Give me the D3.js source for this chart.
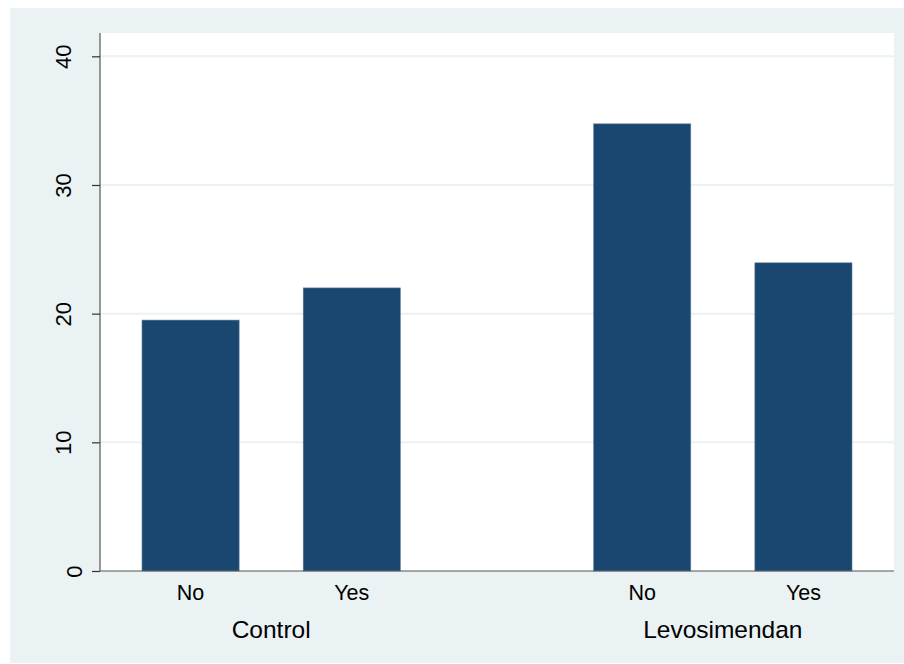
<!DOCTYPE html>
<html>
<head>
<meta charset="utf-8">
<script src="https://cdn.jsdelivr.net/npm/d3@7"></script>
<style>
  html, body { margin: 0; padding: 0; background: #ffffff; }
  svg { display: block; }
  text { font-family: "Liberation Sans", Arial, Helvetica, sans-serif; fill: #000; }
</style>
</head>
<body>
<svg id="chart" width="904" height="664"></svg>
<script>
// Groups, sub-categories and bar heights
const groups = ["Control", "Levosimendan"];
const subCategories = ["No", "Yes"];
const controlValues = [19.5, 22.0];
const levosimendanValues = [34.75, 23.95];
const yTicks = [0, 10, 20, 30, 40];

const rows = [];
groups.forEach((g, gi) => {
  const vals = gi === 0 ? controlValues : levosimendanValues;
  subCategories.forEach((s, si) => rows.push({ group: g, sub: s, value: vals[si] }));
});

const svg = d3.select("#chart");
const W = 904, H = 664;

// Outer graph background and white plot region
const plot = { left: 100, right: 894, top: 33, bottom: 571 };
svg.append("rect").attr("x", 10).attr("y", 8).attr("width", W - 10).attr("height", 655)
  .attr("fill", "#eaf2f3");
svg.append("rect").attr("x", plot.left).attr("y", plot.top)
  .attr("width", plot.right - plot.left).attr("height", plot.bottom - plot.top)
  .attr("fill", "#ffffff");

const y = d3.scaleLinear().domain([0, 40]).range([plot.bottom, 56.3]);

const x0 = d3.scaleBand().domain(groups).range([plot.left, plot.right])
  .paddingInner(0.428).paddingOuter(0.093);
const x1 = d3.scaleBand().domain(subCategories).range([0, x0.bandwidth()])
  .paddingInner(0.3975).paddingOuter(0);

// Horizontal gridlines
svg.append("g").selectAll("line").data(yTicks.filter(t => t > 0)).join("line")
  .attr("x1", plot.left).attr("x2", plot.right)
  .attr("y1", d => y(d)).attr("y2", d => y(d))
  .attr("stroke", "#eaf2f3").attr("stroke-width", 2);

// Bars
svg.append("g").selectAll("rect").data(rows).join("rect")
  .attr("x", d => x0(d.group) + x1(d.sub))
  .attr("y", d => y(d.value))
  .attr("width", x1.bandwidth())
  .attr("height", d => y(0) - y(d.value))
  .attr("fill", "#1a476f")
  .attr("stroke", "#5f7f9f").attr("stroke-width", 0.6);

// Y axis with vertical tick labels (single-digit labels sit closer to the axis)
const yAxis = d3.axisLeft(y).tickValues(yTicks).tickSize(8).tickFormat(d3.format("d"));
const gy = svg.append("g").attr("transform", `translate(${plot.left},0)`).call(yAxis);
gy.select(".domain").attr("d", `M0,${plot.top}V${plot.bottom}`).attr("stroke", "#555").attr("stroke-width", 1.2);
gy.selectAll(".tick line").attr("stroke", "#333").attr("stroke-width", 1.2);
gy.selectAll(".tick text")
  .attr("x", null).attr("dy", null)
  .attr("text-anchor", "middle")
  .attr("font-size", 22)
  .attr("transform", d => `translate(${String(d).length === 1 ? -18.5 : -28.8},0) rotate(-90)`);

// X axis baseline
svg.append("line").attr("x1", plot.left).attr("x2", plot.right)
  .attr("y1", plot.bottom).attr("y2", plot.bottom)
  .attr("stroke", "#555").attr("stroke-width", 1.2);

// Sub-category labels
svg.append("g").selectAll("text").data(rows).join("text")
  .attr("x", d => x0(d.group) + x1(d.sub) + x1.bandwidth() / 2)
  .attr("y", 600)
  .attr("text-anchor", "middle")
  .attr("font-size", 21.5)
  .text(d => d.sub);

// Group labels
svg.append("g").selectAll("text").data(groups).join("text")
  .attr("x", d => x0(d) + x0.bandwidth() / 2)
  .attr("y", 638.3)
  .attr("text-anchor", "middle")
  .attr("font-size", 24.5)
  .text(d => d);
</script>
</body>
</html>
